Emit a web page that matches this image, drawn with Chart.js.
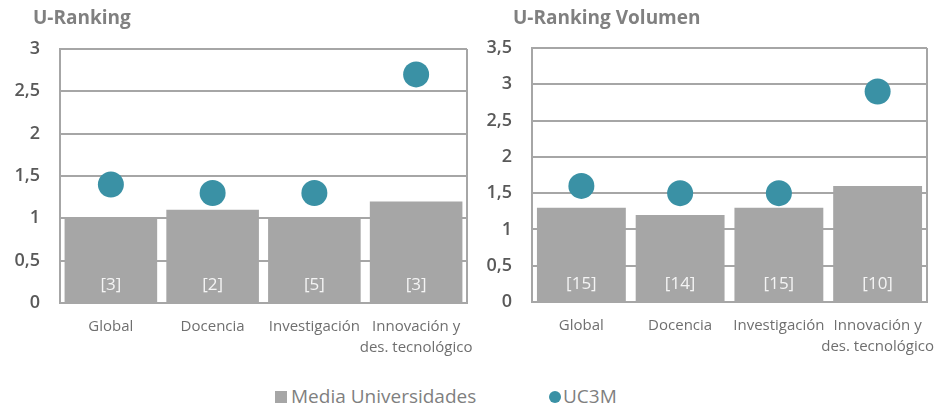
<!DOCTYPE html>
<html>
<head>
<meta charset="utf-8">
<script src="https://cdn.jsdelivr.net/npm/chart.js@4.4.1/dist/chart.umd.min.js"></script>
<style>
  html, body { margin: 0; padding: 0; background: #ffffff; }
  body { width: 949px; height: 410px; position: relative; overflow: hidden; font-family: "Open Sans", sans-serif; }
  canvas { position: absolute; top: 0; }
  #left { left: 0; }
  #right { left: 480px; }
  .legend { position: absolute; top: 384px; left: 0; width: 949px; height: 24px; }
  .legend span { position: absolute; top: 0; font-size: 19px; color: #7f7f7f; line-height: 24px; white-space: nowrap; }
  .legend i { position: absolute; display: block; width: 12px; height: 12px; top: 7px; }
</style>
</head>
<body>
<canvas id="left" width="480" height="360"></canvas>
<canvas id="right" width="469" height="360"></canvas>
<div class="legend">
  <i style="left:275px;background:#a6a6a6;"></i><span style="left:291px;">Media Universidades</span>
  <i style="left:549px;background:#3a91a5;border-radius:50%;"></i><span style="left:563px;">UC3M</span>
</div>
<script>
// Categories shared by both panels
const categories = ['Global', 'Docencia', 'Investigación', ['Innovación y', 'des. tecnológico']];

// U-Ranking panel
const mediaRanking = [1.0, 1.1, 1.0, 1.2];
const uc3mRanking = [1.4, 1.3, 1.3, 2.7];
const posRanking = ['[3]', '[2]', '[5]', '[3]'];

// U-Ranking Volumen panel
const mediaVolumen = [1.3, 1.2, 1.3, 1.6];
const uc3mVolumen = [1.6, 1.5, 1.5, 2.9];
const posVolumen = ['[15]', '[14]', '[15]', '[10]'];

const GRID = '#a6a6a6';
const BAR = '#a6a6a6';
const DOT = '#3a91a5';
const FONT = '"Open Sans", sans-serif';

// Panel heading, drawn at the top-left of each canvas
const headingPlugin = {
  id: 'heading',
  afterDraw(chart, args, opts) {
    const ctx = chart.ctx;
    ctx.save();
    ctx.font = 'bold 19px ' + FONT;
    ctx.fillStyle = '#808080';
    ctx.textBaseline = 'alphabetic';
    ctx.textAlign = 'left';
    ctx.fillText(opts.text, opts.x, 24);
    ctx.restore();
  }
};

// Right edge of the plot frame (other edges come from grid and axis lines)
const framePlugin = {
  id: 'frame',
  beforeDatasetsDraw(chart) {
    const a = chart.chartArea, ctx = chart.ctx;
    ctx.save();
    ctx.strokeStyle = GRID;
    ctx.lineWidth = 2;
    ctx.beginPath();
    ctx.moveTo(a.right, a.top);
    ctx.lineTo(a.right, a.bottom);
    ctx.stroke();
    ctx.restore();
  }
};

// Ranking position printed near the base of every bar
const positionPlugin = {
  id: 'positions',
  afterDatasetsDraw(chart, args, opts) {
    const idx = chart.data.datasets.findIndex(d => d.type === 'bar');
    const meta = chart.getDatasetMeta(idx);
    const ctx = chart.ctx;
    ctx.save();
    ctx.font = '17px ' + FONT;
    ctx.fillStyle = '#f4f4f4';
    ctx.textAlign = 'center';
    ctx.textBaseline = 'middle';
    meta.data.forEach((bar, i) => {
      ctx.fillText(opts.labels[i], bar.x, bar.base - 17);
    });
    ctx.restore();
  }
};

function makePanel(id, media, uc3m, positions, opt) {
  return new Chart(document.getElementById(id), {
    data: {
      labels: categories,
      datasets: [
        {
          type: 'line',
          label: 'UC3M',
          data: uc3m,
          showLine: false,
          pointRadius: 13,
          pointHoverRadius: 13,
          pointBackgroundColor: DOT,
          pointBorderWidth: 0,
          order: 0
        },
        {
          type: 'bar',
          label: 'Media Universidades',
          data: media,
          backgroundColor: BAR,
          barPercentage: opt.barPct,
          categoryPercentage: 1,
          order: 1
        }
      ]
    },
    plugins: [headingPlugin, framePlugin, positionPlugin],
    options: {
      responsive: false,
      animation: false,
      events: [],
      layout: { padding: { top: opt.top, right: opt.right, left: 0, bottom: 0 } },
      plugins: {
        legend: { display: false },
        tooltip: { enabled: false },
        heading: { text: opt.title, x: opt.titleX },
        positions: { labels: positions }
      },
      scales: {
        x: {
          grid: { display: false, drawTicks: false },
          border: { display: true, color: GRID, width: 2 },
          ticks: { color: '#6f6f6f', font: { family: FONT, size: 15, lineHeight: 1.35 }, padding: 14, maxRotation: 0, autoSkip: false },
          afterFit(scale) {
            scale.height = opt.xHeight;
            scale.paddingLeft = 0;
            scale.paddingRight = 0;
          }
        },
        y: {
          min: 0,
          max: opt.max,
          grid: { color: GRID, lineWidth: 2, drawTicks: false },
          border: { display: true, color: GRID, width: 2 },
          ticks: {
            stepSize: 0.5,
            padding: 20,
            color: '#595959',
            font: { family: FONT, size: 18, weight: '600' },
            callback: v => String(v).replace('.', ',')
          },
          afterFit(scale) { scale.width = opt.yWidth; }
        }
      }
    }
  });
}

makePanel('left', mediaRanking, uc3mRanking, posRanking, {
  title: 'U-Ranking', titleX: 33, max: 3, top: 49, right: 12, xHeight: 57, yWidth: 60, barPct: 0.91
});
makePanel('right', mediaVolumen, uc3mVolumen, posVolumen, {
  title: 'U-Ranking Volumen', titleX: 33, max: 3.5, top: 48, right: 22, xHeight: 58, yWidth: 52, barPct: 0.9
});
</script>
</body>
</html>
